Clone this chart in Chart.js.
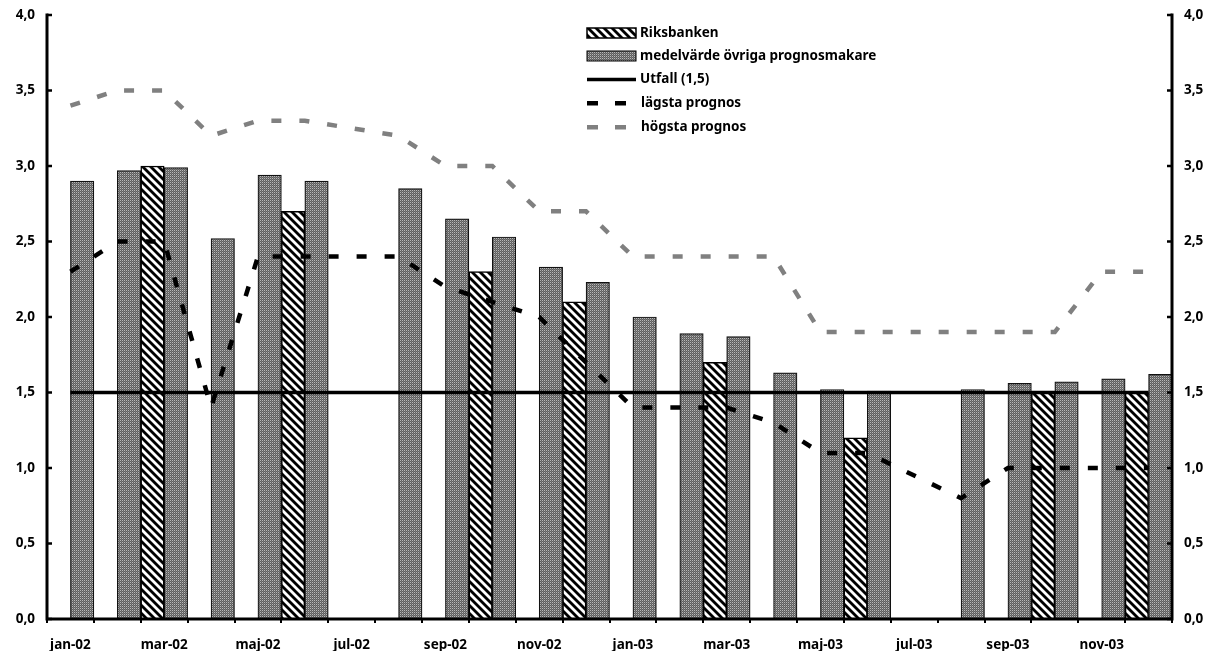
<!DOCTYPE html>
<html>
<head>
<meta charset="utf-8">
<script src="https://cdn.jsdelivr.net/npm/chart.js@4.4.1/dist/chart.umd.min.js"></script>
<style>
html,body{margin:0;padding:0;background:#fff;}
#wrap{width:1209px;height:651px;position:relative;}
</style>
</head>
<body>
<div id="wrap"><canvas id="c"></canvas></div>
<script>
const months = ['jan-02','feb-02','mar-02','apr-02','maj-02','jun-02','jul-02','aug-02','sep-02','okt-02','nov-02','dec-02',
                'jan-03','feb-03','mar-03','apr-03','maj-03','jun-03','jul-03','aug-03','sep-03','okt-03','nov-03','dec-03'];
const riksbanken = [null,null,3.0,null,null,2.7,null,null,null,2.3,null,2.1,
                    null,null,1.7,null,null,1.2,null,null,null,1.5,null,1.5];
const medelvarde = [2.9,2.97,2.99,2.52,2.94,2.9,null,2.85,2.65,2.53,2.33,2.23,
                    2.0,1.89,1.87,1.63,1.52,1.51,null,1.52,1.56,1.57,1.59,1.62];
const utfall = [1.5,1.5,1.5,1.5,1.5,1.5,1.5,1.5,1.5,1.5,1.5,1.5,
                1.5,1.5,1.5,1.5,1.5,1.5,1.5,1.5,1.5,1.5,1.5,1.5];
const lagsta = [2.3,2.5,2.5,1.4,2.4,2.4,2.4,2.4,2.2,2.1,2.0,1.7,
                1.4,1.4,1.4,1.3,1.1,1.1,0.95,0.8,1.0,1.0,1.0,1.0];
const hogsta = [3.4,3.5,3.5,3.2,3.3,3.3,3.25,3.2,3.0,3.0,2.7,2.7,
                2.4,2.4,2.4,2.4,1.9,1.9,1.9,1.9,1.9,1.9,2.3,2.3];
const yTicks = [0,0.5,1,1.5,2,2.5,3,3.5,4];
const legendLabels = ['Riksbanken','medelvärde övriga prognosmakare','Utfall (1,5)','lägsta prognos','högsta prognos'];

const FONT = '"Noto Sans", "DejaVu Sans", sans-serif';

function hatchPattern(){
  const t = document.createElement('canvas'); t.width = 8; t.height = 8;
  const g = t.getContext('2d');
  g.fillStyle = '#fff'; g.fillRect(0,0,8,8);
  g.strokeStyle = '#000'; g.lineWidth = 2.8;
  for (const off of [-8,0,8]) {
    g.beginPath(); g.moveTo(off-2,-2); g.lineTo(off+10,10); g.stroke();
  }
  return g.createPattern(t,'repeat');
}
function grayPattern(){
  const t = document.createElement('canvas'); t.width = 2; t.height = 2;
  const g = t.getContext('2d');
  g.fillStyle = '#5e5e5e'; g.fillRect(0,0,2,2);
  g.fillStyle = '#b8b8b8'; g.fillRect(0,0,1,1);
  g.fillStyle = '#7a7a7a'; g.fillRect(1,1,1,1);
  return g.createPattern(t,'repeat');
}
const hatch = hatchPattern();
const gray = grayPattern();

const fmt = v => Number(v).toFixed(1).replace('.', ',');

const axesLines = {
  id:'axesLines',
  afterDatasetsDraw(chart){
    const ctx = chart.ctx, a = chart.chartArea;
    ctx.save(); ctx.strokeStyle = '#000'; ctx.lineWidth = 3; ctx.lineCap = 'square';
    ctx.beginPath();
    ctx.moveTo(a.left, a.top); ctx.lineTo(a.left, a.bottom); ctx.lineTo(a.right, a.bottom); ctx.lineTo(a.right, a.top);
    ctx.stroke();
    ctx.lineWidth = 2.5; ctx.lineCap = 'butt';
    const y = chart.scales.y;
    yTicks.forEach(v => {
      const py = y.getPixelForValue(v);
      ctx.beginPath(); ctx.moveTo(a.left, py); ctx.lineTo(a.left + 5, py); ctx.stroke();
      ctx.beginPath(); ctx.moveTo(a.right, py); ctx.lineTo(a.right - 5, py); ctx.stroke();
    });
    ctx.restore();
  }
};

const customLegend = {
  id:'customLegend',
  afterDraw(chart){
    const ctx = chart.ctx;
    const x0 = 587, x1 = 636, tx = 640;
    const rows = [33, 56, 79.5, 103, 127];
    ctx.save();
    ctx.font = 'bold 13.5px ' + FONT;
    ctx.fillStyle = '#000';
    ctx.textBaseline = 'middle';
    legendLabels.forEach((lab, i) => {
      const y = rows[i];
      if (i === 0) {
        ctx.fillStyle = hatch; ctx.fillRect(x0, y-5, x1-x0, 10);
        ctx.strokeStyle = '#000'; ctx.lineWidth = 1.5; ctx.strokeRect(x0, y-5, x1-x0, 10);
      } else if (i === 1) {
        ctx.fillStyle = gray; ctx.fillRect(x0, y-5, x1-x0, 10);
        ctx.strokeStyle = '#000'; ctx.lineWidth = 1; ctx.strokeRect(x0, y-5, x1-x0, 10);
      } else if (i === 2) {
        ctx.strokeStyle = '#000'; ctx.lineWidth = 3.5;
        ctx.beginPath(); ctx.moveTo(x0, y); ctx.lineTo(x1, y); ctx.stroke();
      } else {
        ctx.fillStyle = i === 3 ? '#000' : '#808080';
        ctx.fillRect(x0, y-2, 11, 4.5);
        ctx.fillRect(x0+28, y-2, 11, 4.5);
      }
      ctx.fillStyle = '#000';
      ctx.fillText(lab, i >= 3 ? 641 : tx, y);
    });
    ctx.restore();
  }
};

Chart.defaults.font.family = FONT;
Chart.defaults.color = '#000';

const fitY = w => s => { s.width = w; s.paddingTop = 0; s.paddingBottom = 0; };

new Chart(document.getElementById('c'), {
  data: {
    labels: months,
    datasets: [
      { type:'bar', label:legendLabels[0], data:riksbanken, backgroundColor:hatch, borderColor:'#000', borderWidth:1.5, order:2,
        categoryPercentage:1, barPercentage:1 },
      { type:'bar', label:legendLabels[1], data:medelvarde, backgroundColor:gray, borderColor:'#111', borderWidth:1.2, order:2,
        categoryPercentage:1, barPercentage:1 },
      { type:'line', label:legendLabels[2], data:utfall, borderColor:'#000', borderWidth:3.5, pointRadius:0, tension:0, order:1 },
      { type:'line', label:legendLabels[3], data:lagsta, borderColor:'#000', borderWidth:4.5, borderDash:[10,18], borderCapStyle:'butt', pointRadius:0, tension:0, order:1, spanGaps:true },
      { type:'line', label:legendLabels[4], data:hogsta, borderColor:'#808080', borderWidth:4.5, borderDash:[10,18], borderCapStyle:'butt', pointRadius:0, tension:0, order:1, spanGaps:true }
    ]
  },
  options: {
    responsive:true, maintainAspectRatio:false, animation:false, devicePixelRatio:1,
    layout:{ padding:{ top:15, left:0, right:0, bottom:0 } },
    plugins:{ legend:{ display:false }, tooltip:{ enabled:false } },
    scales:{
      x:{
        grid:{ offset:true, drawOnChartArea:false, drawTicks:true, tickLength:4, color:'#000', lineWidth:2 },
        border:{ display:false },
        ticks:{ autoSkip:false, maxRotation:0, padding:14, font:{ size:13.5, weight:'bold' },
          callback:(v, i) => i % 2 === 0 ? months[i] : '' },
        afterFit:s => { s.height = 32; s.paddingLeft = 0; s.paddingRight = 0; }
      },
      y:{
        position:'left', min:0, max:4,
        afterBuildTicks:s => { s.ticks = yTicks.map(v => ({ value:v })); },
        grid:{ display:true, drawOnChartArea:false, drawTicks:false },
        border:{ display:false },
        ticks:{ padding:12, font:{ size:13.5, weight:'bold' }, callback:fmt },
        afterFit:fitY(47)
      },
      y2:{
        position:'right', min:0, max:4,
        afterBuildTicks:s => { s.ticks = yTicks.map(v => ({ value:v })); },
        grid:{ display:true, drawOnChartArea:false, drawTicks:false },
        border:{ display:false },
        ticks:{ padding:12, font:{ size:13.5, weight:'bold' }, callback:fmt },
        afterFit:fitY(37)
      }
    }
  },
  plugins:[axesLines, customLegend]
});
</script>
</body>
</html>
